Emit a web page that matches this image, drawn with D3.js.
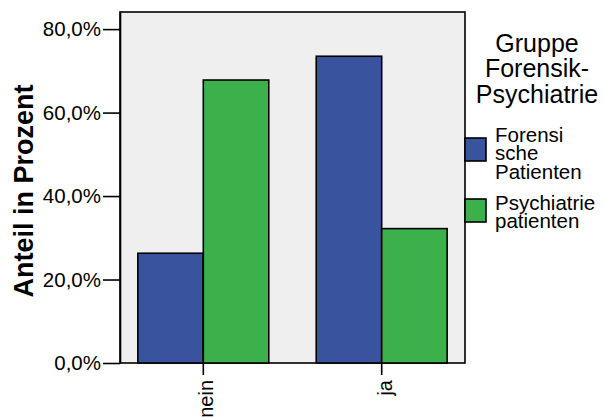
<!DOCTYPE html>
<html><head><meta charset="utf-8">
<script src="https://cdn.jsdelivr.net/npm/d3@7"></script>
<style>
html,body{margin:0;padding:0;background:#fff;}
svg{display:block;font-family:"Liberation Sans",Arial,sans-serif;}
</style></head>
<body>
<svg id="chart" width="604" height="417"></svg>
<script>
const categories = ["nein", "ja"];
const seriesNames = ["Forensische Patienten", "Psychiatriepatienten"];
const seriesLegendLines = [["Forensi", "sche", "Patienten"], ["Psychiatrie", "patienten"]];
const forensischeValues = [26.3, 73.5];
const psychiatrieValues = [67.8, 32.2];
const yTickValues = [0, 20, 40, 60, 80];
const yTickLabels = ["0,0%", "20,0%", "40,0%", "60,0%", "80,0%"];
const legendTitleLines = ["Gruppe", "Forensik-", "Psychiatrie"];
const yAxisTitle = "Anteil in Prozent";
const colors = ["#3a539f", "#3cb04b"];

const seriesValues = [forensischeValues, psychiatrieValues];

const svg = d3.select("#chart");
const pL = 120, pR = 465, pT = 12, pB = 363;

const x = d3.scaleBand().domain(categories).range([pL, pR])
  .paddingInner(0.266).paddingOuter(0.1);
const xs = d3.scaleBand().domain(d3.range(seriesNames.length)).range([0, x.bandwidth()]);
const y = d3.scaleLinear().domain([0, 84.1]).range([pB, pT]);

// plot frame
svg.append("rect").attr("x", pL).attr("y", pT)
  .attr("width", pR - pL).attr("height", pB - pT)
  .attr("fill", "#efefef").attr("stroke", "#000").attr("stroke-width", 1.6);

// bars
const rows = categories.map((c, i) => ({c, vals: seriesValues.map(s => s[i])}));
const g = svg.append("g").selectAll("g").data(rows).join("g")
  .attr("transform", d => `translate(${x(d.c)},0)`);
g.selectAll("rect").data(d => d.vals.map((v, k) => ({v, k}))).join("rect")
  .attr("x", d => xs(d.k)).attr("width", xs.bandwidth())
  .attr("y", d => y(d.v)).attr("height", d => y(0) - y(d.v))
  .attr("fill", d => colors[d.k]).attr("stroke", "#000").attr("stroke-width", 1.6);

// y axis
const yAxis = d3.axisLeft(y).tickValues(yTickValues)
  .tickFormat((d, i) => yTickLabels[i]).tickSize(17).tickSizeOuter(0).tickPadding(2);
const ya = svg.append("g").attr("transform", `translate(${pL},0)`).call(yAxis);
ya.select(".domain").attr("stroke-width", 1.6);
ya.selectAll(".tick line").attr("stroke-width", 1.6);
ya.selectAll(".tick text").attr("font-size", 20.5).attr("fill", "#000")
  .attr("font-family", "Liberation Sans, Arial, sans-serif");

// x axis
const xAxis = d3.axisBottom(x).tickSize(12).tickSizeOuter(0);
const xa = svg.append("g").attr("transform", `translate(0,${pB})`).call(xAxis);
xa.select(".domain").remove();
xa.selectAll(".tick line").attr("stroke-width", 1.6);
xa.selectAll(".tick text")
  .attr("font-size", 20).attr("fill", "#000")
  .attr("font-family", "Liberation Sans, Arial, sans-serif")
  .attr("transform", "rotate(-90)")
  .attr("text-anchor", "end")
  .attr("x", -17).attr("y", 0).attr("dy", "0.5em");

// y axis title
svg.append("text").attr("transform", "translate(33,191) rotate(-90)")
  .attr("text-anchor", "middle").attr("font-size", 27).attr("font-weight", "bold")
  .text(yAxisTitle);

// legend title
const lt = svg.append("text").attr("font-size", 25).attr("text-anchor", "middle");
legendTitleLines.forEach((t, i) => {
  lt.append("tspan").attr("x", 537).attr("y", 51.5 + i * 25.7).text(t);
});

// legend items
const legendTop = [138, 199];
const legendBaseline = [141.5, 209.5];
seriesNames.forEach((s, k) => {
  svg.append("rect").attr("x", 465).attr("y", legendTop[k])
    .attr("width", 21).attr("height", 23)
    .attr("fill", colors[k]).attr("stroke", "#000").attr("stroke-width", 1.6);
  const t = svg.append("text").attr("font-size", 20.5);
  seriesLegendLines[k].forEach((line, j) => {
    t.append("tspan").attr("x", 495).attr("y", legendBaseline[k] + j * 18.6).text(line);
  });
});
</script>
</body></html>
